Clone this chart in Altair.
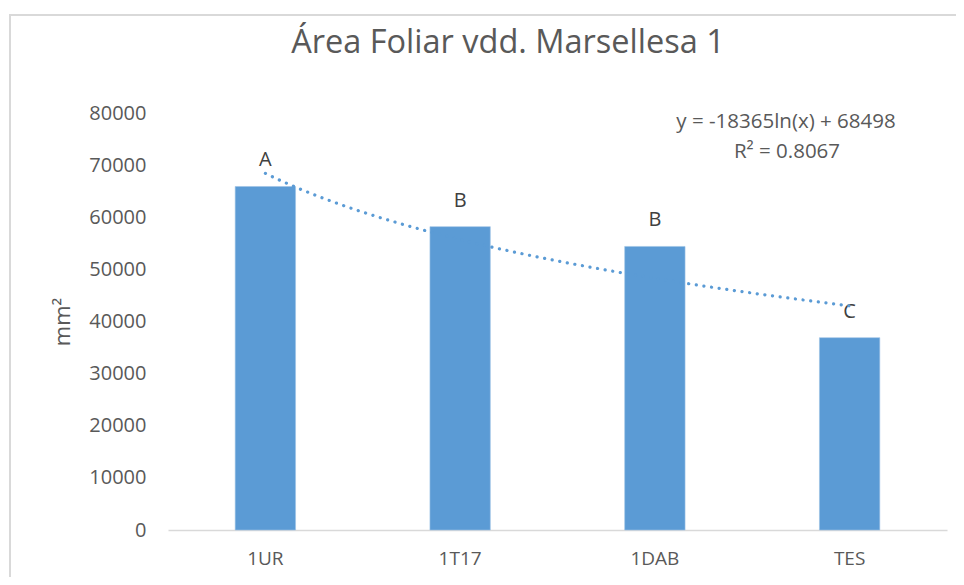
import altair as alt
import pandas as pd

categories = ["1UR", "1T17", "1DAB", "TES"]
positions = [1, 2, 3, 4]
values = [65900, 58200, 54400, 36900]
letters = ["A", "B", "B", "C"]
title_text = "Área Foliar vdd. Marsellesa 1"
equation = "y = -18365ln(x) + 68498"
r2_text = "R² = 0.8067"
y_ticks = [0, 10000, 20000, 30000, 40000, 50000, 60000, 70000, 80000]

df = pd.DataFrame({"cat": categories, "pos": positions, "value": values, "letter": letters})

FONT = "Open Sans"
BLUE = "#5b9bd5"
GREY = "#595959"
FRAME = "#d9d9d9"

W, H = 779, 417

xband = alt.X("cat:N", sort=categories,
              scale=alt.Scale(paddingInner=0.69, paddingOuter=0.345),
              axis=alt.Axis(title=None, labelAngle=0, ticks=False, domain=True,
                            domainColor=FRAME, domainWidth=1.5, labelPadding=19,
                            labelFont=FONT, labelFontSize=19, labelColor=GREY))
yscale = alt.Y("value:Q", scale=alt.Scale(domain=[0, 80000], nice=False),
               axis=alt.Axis(values=y_ticks, format="d", title="mm²", titleFont=FONT,
                             titleFontSize=22, titleFontWeight="normal", titleColor=GREY,
                             titlePadding=14, grid=False, domain=False, ticks=False,
                             labelPadding=22, labelFont=FONT, labelFontSize=20,
                             labelColor=GREY))

bars = alt.Chart(df).mark_bar(color=BLUE, stroke="#9dc3e6", strokeWidth=0.6).encode(x=xband, y=yscale)

labels = alt.Chart(df).mark_text(font=FONT, fontSize=20, color="#404040", dy=-26,
                                 baseline="middle").encode(
    x=alt.X("cat:N", sort=categories), y="value:Q", text="letter:N")

trend = alt.Chart(df).transform_regression("pos", "value", method="log").mark_line(
    color=BLUE, strokeWidth=3.2, strokeDash=[0.1, 7.6], strokeCap="round").encode(
    x=alt.X("pos:Q", scale=alt.Scale(domain=[0.5, 4.5], nice=False, zero=False), axis=None),
    y=alt.Y("value:Q"))

txt = pd.DataFrame({"t": [title_text, equation, r2_text]})
title = alt.Chart(txt).transform_filter(alt.datum.t == title_text).mark_text(
    font=FONT, fontSize=32.5, color=GREY, align="center", baseline="alphabetic").encode(
    x=alt.value(340), y=alt.value(-60), text="t:N")
eq = alt.Chart(txt).transform_filter(alt.datum.t == equation).mark_text(
    font=FONT, fontSize=20.5, color=GREY, align="center", baseline="middle").encode(
    x=alt.value(618), y=alt.value(9), text="t:N")
r2 = alt.Chart(txt).transform_filter(alt.datum.t == r2_text).mark_text(
    font=FONT, fontSize=20.5, color=GREY, align="center", baseline="middle").encode(
    x=alt.value(619), y=alt.value(39), text="t:N")

frame_left = alt.Chart(txt).transform_filter(alt.datum.t == title_text).mark_rule(
    color=FRAME, strokeWidth=2).encode(x=alt.value(-158), y=alt.value(-98), y2=alt.value(470))
frame_top = alt.Chart(txt).transform_filter(alt.datum.t == title_text).mark_rule(
    color=FRAME, strokeWidth=2).encode(x=alt.value(-159), x2=alt.value(800), y=alt.value(-98))

main = alt.layer(bars, labels)

chart = alt.layer(frame_left, frame_top, main, trend, title, eq, r2).resolve_scale(
    x="independent").properties(
    width=W, height=H,
    autosize=alt.AutoSizeParams(type="none"),
    padding={"left": 160, "top": 105, "right": 9, "bottom": 47},
).configure(background="white").configure_view(strokeWidth=0, stroke=None)

chart.save("out.html", embed_options={"renderer": "svg", "actions": False})
